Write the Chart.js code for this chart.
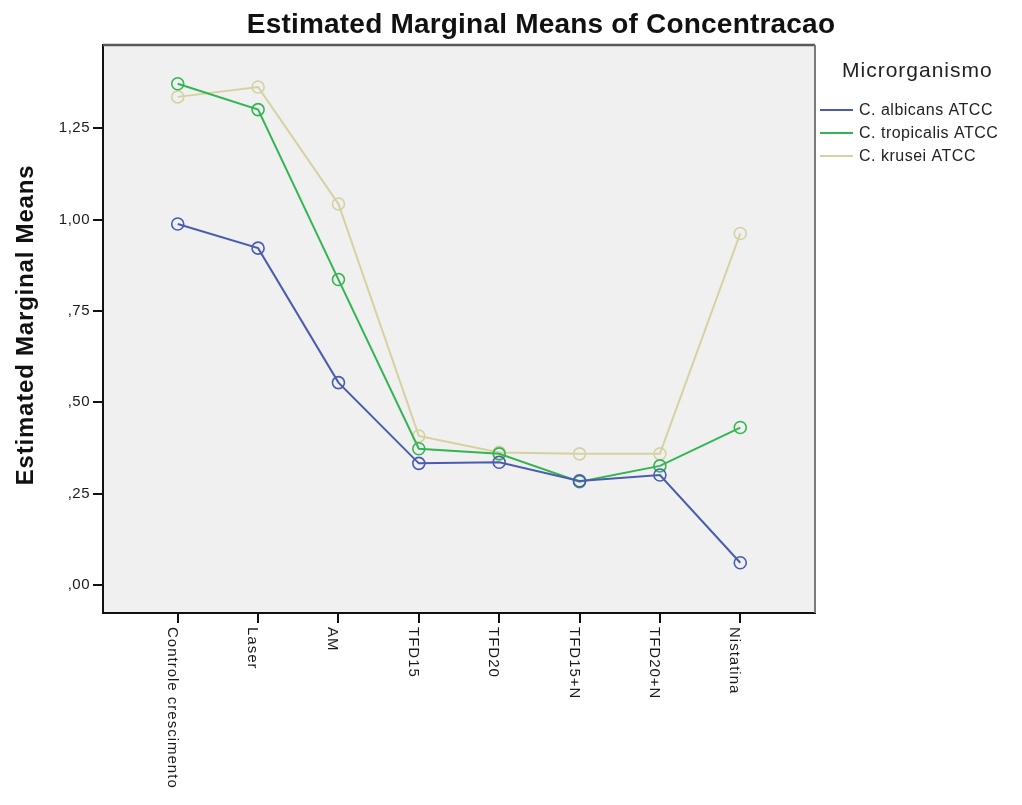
<!DOCTYPE html>
<html>
<head>
<meta charset="utf-8">
<script src="https://cdn.jsdelivr.net/npm/chart.js@4.4.1/dist/chart.umd.min.js"></script>
<style>
  html, body { margin: 0; padding: 0; background: #ffffff; }
  #wrap { width: 1022px; height: 805px; position: relative; }
</style>
</head>
<body>
<div id="wrap"><canvas id="c" width="1022" height="805"></canvas></div>
<script>
// Treatments along the horizontal axis
const categories = ['Controle crescimento', 'Laser', 'AM', 'TFD15', 'TFD20', 'TFD15+N', 'TFD20+N', 'Nistatina'];

// Estimated marginal means per microorganism
const albicans   = [0.988, 0.922, 0.554, 0.333, 0.336, 0.285, 0.301, 0.061];
const tropicalis = [1.372, 1.301, 0.836, 0.373, 0.359, 0.283, 0.326, 0.431];
const krusei     = [1.336, 1.363, 1.043, 0.408, 0.363, 0.359, 0.359, 0.962];

const seriesNames = ['C. albicans ATCC', 'C. tropicalis ATCC', 'C. krusei ATCC'];
const yTickValues = [0, 0.25, 0.5, 0.75, 1.0, 1.25];

const chartTitle = 'Estimated Marginal Means of Concentracao';
const yTitle = 'Estimated Marginal Means';
const legendTitle = 'Microrganismo';

const FONT = '"Liberation Sans", Arial, Helvetica, sans-serif';
const colors = ['#4a5cb0', '#33b552', '#d6d1a0'];

function fmtTick(v) {
  let s = v.toFixed(2).replace('.', ',');
  if (s.startsWith('0')) s = s.slice(1);
  return s;
}

function series(name, values, color) {
  return {
    label: name,
    data: values.map((v, i) => ({ x: i, y: v })),
    borderColor: color,
    backgroundColor: 'rgba(0,0,0,0)',
    borderWidth: 2,
    pointStyle: 'circle',
    pointRadius: 6,
    pointHoverRadius: 6,
    pointBorderWidth: 1.6,
    pointBorderColor: color,
    pointBackgroundColor: 'rgba(0,0,0,0)',
    tension: 0
  };
}

// Plot background, frame, titles, rotated category labels and legend
const decor = {
  id: 'decor',
  beforeDraw(chart) {
    const { ctx, chartArea: a } = chart;
    ctx.save();
    ctx.fillStyle = '#f0f0f0';
    ctx.fillRect(a.left, a.top, a.right - a.left, a.bottom - a.top);
    ctx.restore();
    ctx.letterSpacing = '0.5px';
  },
  beforeDatasetsDraw(chart) {
    chart.ctx.letterSpacing = '0px';
  },
  afterDraw(chart) {
    const { ctx, chartArea: a } = chart;
    const xs = chart.scales.x;
    ctx.save();
    // frame top and right
    ctx.strokeStyle = '#5a5a5a';
    ctx.lineWidth = 2.5;
    ctx.beginPath();
    ctx.moveTo(a.left, a.top);
    ctx.lineTo(a.right, a.top);
    ctx.stroke();
    ctx.strokeStyle = '#7a7a7a';
    ctx.lineWidth = 2;
    ctx.beginPath();
    ctx.moveTo(a.right, a.top);
    ctx.lineTo(a.right, a.bottom);
    ctx.stroke();

    // main title
    ctx.fillStyle = '#111111';
    ctx.font = 'bold 28px ' + FONT;
    ctx.letterSpacing = '0.2px';
    ctx.textAlign = 'center';
    ctx.textBaseline = 'alphabetic';
    ctx.fillText(chartTitle, 541, 33);

    // y axis title
    ctx.save();
    ctx.translate(33, 325);
    ctx.rotate(-Math.PI / 2);
    ctx.font = 'bold 24px ' + FONT;
    ctx.letterSpacing = '0.8px';
    ctx.fillText(yTitle, 0, 0);
    ctx.restore();

    // category labels, reading downward
    ctx.font = '15px ' + FONT;
    ctx.letterSpacing = '1px';
    ctx.textAlign = 'left';
    ctx.fillStyle = '#1a1a1a';
    categories.forEach((c, i) => {
      const px = xs.getPixelForValue(i);
      ctx.save();
      ctx.translate(px - 10, a.bottom + 14);
      ctx.rotate(Math.PI / 2);
      ctx.fillText(c, 0, 0);
      ctx.restore();
    });

    // legend
    ctx.fillStyle = '#222222';
    ctx.font = '21px ' + FONT;
    ctx.letterSpacing = '1px';
    ctx.textAlign = 'left';
    ctx.textBaseline = 'middle';
    ctx.fillText(legendTitle, 842, 71);
    ctx.font = '16px ' + FONT;
    ctx.letterSpacing = '0.5px';
    chart.data.datasets.forEach((ds, i) => {
      const y = 110 + i * 23;
      ctx.strokeStyle = ds.borderColor;
      ctx.lineWidth = 2;
      ctx.beginPath();
      ctx.moveTo(820, y);
      ctx.lineTo(853, y);
      ctx.stroke();
      ctx.fillText(ds.label, 859, y + 1);
    });
    ctx.restore();
  }
};

new Chart(document.getElementById('c'), {
  type: 'line',
  data: {
    datasets: [
      series(seriesNames[0], albicans, colors[0]),
      series(seriesNames[1], tropicalis, colors[1]),
      series(seriesNames[2], krusei, colors[2])
    ]
  },
  options: {
    responsive: false,
    animation: false,
    events: [],
    layout: { padding: { top: 45, right: 207, left: 0, bottom: 0 } },
    plugins: { legend: { display: false }, title: { display: false }, tooltip: { enabled: false } },
    scales: {
      x: {
        type: 'linear',
        min: -0.93,
        max: 7.93,
        afterBuildTicks(scale) { scale.ticks = categories.map((_, i) => ({ value: i })); },
        afterFit(scale) { scale.height = 192; },
        border: { display: true, color: '#111111', width: 2 },
        grid: { drawOnChartArea: false, drawTicks: true, tickLength: 10, color: '#111111', lineWidth: 2 },
        ticks: { display: false }
      },
      y: {
        type: 'linear',
        min: -0.0766,
        max: 1.478,
        afterBuildTicks(scale) { scale.ticks = yTickValues.map(v => ({ value: v })); },
        afterFit(scale) { scale.width = 103; },
        border: { display: true, color: '#111111', width: 2 },
        grid: { drawOnChartArea: false, drawTicks: true, tickLength: 10, color: '#111111', lineWidth: 2 },
        ticks: {
          color: '#1a1a1a',
          padding: 3,
          font: { family: FONT, size: 15 },
          callback: (v) => fmtTick(v)
        }
      }
    }
  },
  plugins: [decor]
});
</script>
</body>
</html>
